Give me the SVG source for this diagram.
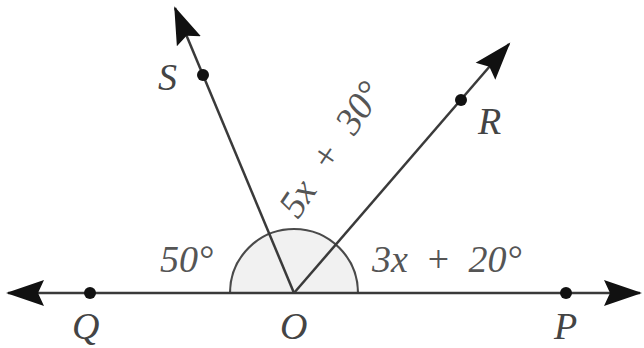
<svg xmlns="http://www.w3.org/2000/svg" width="644" height="348" viewBox="0 0 644 348">
<style>
.ln{stroke:#3a3a3a;stroke-width:2.5;fill:none}
.dot{fill:#111}
.lbl{font-family:"Liberation Serif",serif;font-style:italic;font-size:38px;fill:#444}
.ang{font-family:"Liberation Serif",serif;font-style:italic;font-size:38px;fill:#555}
</style>
<defs>
<marker id="ah" markerUnits="userSpaceOnUse" viewBox="0 -14 40 28" refX="36" refY="0" markerWidth="40" markerHeight="28" orient="auto-start-reverse">
<path d="M0,-13 L38,0 L0,13 L6,0 Z" fill="#111"/>
</marker>
</defs>
<rect width="644" height="348" fill="#fff"/>
<g id="angle-arc">
<path d="M230,293 A64,64 0 0 1 358,293 Z" fill="#f1f1f1" stroke="#4a4a4a" stroke-width="2.2"/>
</g>
<g id="connectors">
<line class="ln" x1="8" y1="293" x2="640" y2="293" marker-start="url(#ah)" marker-end="url(#ah)"/>
<line class="ln" x1="294" y1="293" x2="175" y2="8" marker-end="url(#ah)"/>
<line class="ln" x1="294" y1="293" x2="509" y2="44" marker-end="url(#ah)"/>
</g>
<g id="Q"><circle class="dot" cx="90" cy="293" r="6"/><text class="lbl" x="72" y="339">Q</text></g>
<g id="O"><text class="lbl" x="280" y="339">O</text></g>
<g id="P"><circle class="dot" cx="566" cy="293" r="6"/><text class="lbl" x="554" y="339">P</text></g>
<g id="S"><circle class="dot" cx="203" cy="75" r="6"/><text class="lbl" x="158" y="90">S</text></g>
<g id="R"><circle class="dot" cx="461" cy="100" r="6"/><text class="lbl" x="478" y="134">R</text></g>
<g id="labels">
<text class="ang" x="160" y="272">50°</text>
<text class="ang" x="372" y="272" word-spacing="8">3x + 20°</text>
<text class="ang" transform="translate(298,220) rotate(-56)" word-spacing="10">5x + 30°</text>
</g>
</svg>
